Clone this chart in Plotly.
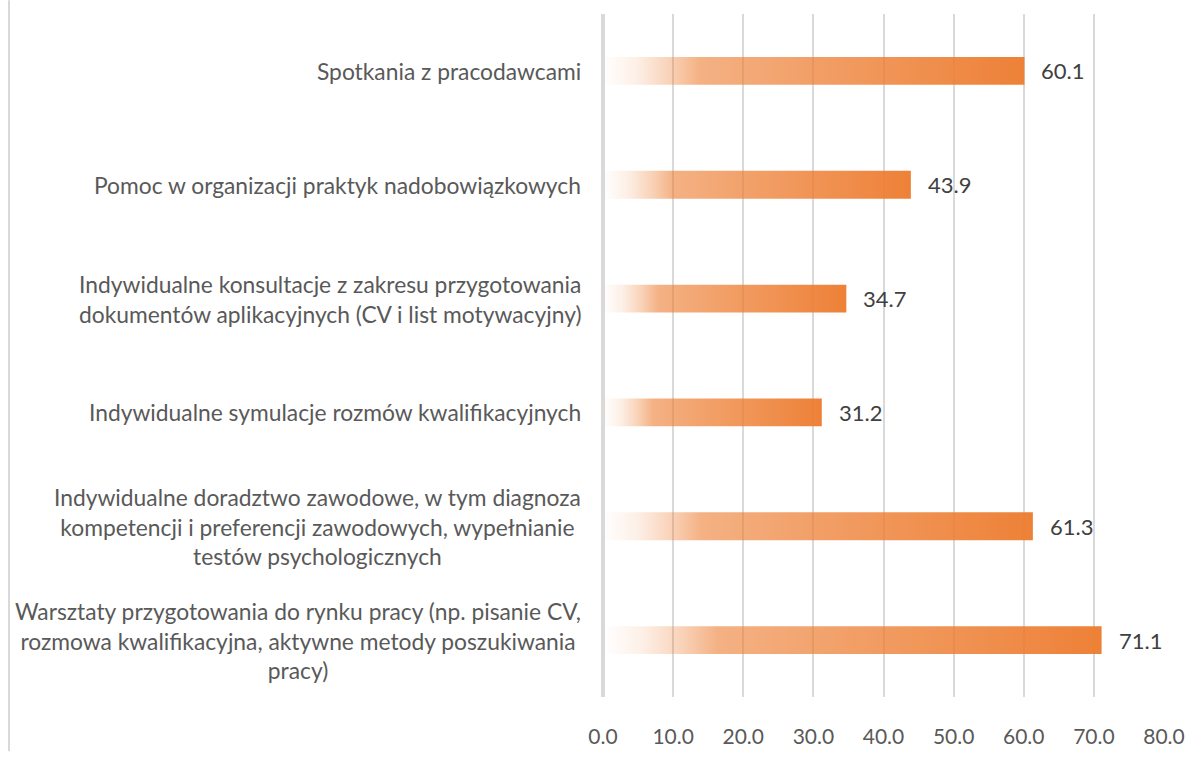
import plotly.graph_objects as go

categories = [
    "Warsztaty przygotowania do rynku pracy (np. pisanie CV,<br>rozmowa kwalifikacyjna, aktywne metody poszukiwania<br>pracy)",
    "Indywidualne doradztwo zawodowe, w tym diagnoza<br>kompetencji i preferencji zawodowych, wypełnianie<br>testów psychologicznych",
    "Indywidualne symulacje rozmów kwalifikacyjnych",
    "Indywidualne konsultacje z zakresu przygotowania<br>dokumentów aplikacyjnych (CV i list motywacyjny)",
    "Pomoc w organizacji praktyk nadobowiązkowych",
    "Spotkania z pracodawcami",
]
values = [71.1, 61.3, 31.2, 34.7, 43.9, 60.1]
x_ticks = [0, 10, 20, 30, 40, 50, 60, 70, 80]

FONT = "Lato"
TXT = "#595959"
GRID = "#d9d9d9"
HALF = 0.122

colorscale = [
    [0.0, "rgba(237,125,49,0.0)"],
    [0.08, "rgba(237,125,49,0.12)"],
    [0.16, "rgba(237,125,49,0.35)"],
    [0.23, "rgba(237,125,49,0.6)"],
    [0.5, "rgba(237,125,49,0.74)"],
    [1.0, "rgba(237,125,49,0.97)"],
]

fig = go.Figure()
for i, v in enumerate(values):
    fig.add_trace(go.Scatter(
        x=[0, v, v, 0, 0],
        y=[i - HALF, i - HALF, i + HALF, i + HALF, i - HALF],
        mode="lines",
        line=dict(width=0),
        fill="toself",
        fillgradient=dict(type="horizontal", colorscale=colorscale),
        hoverinfo="skip",
        showlegend=False,
    ))

annotations = []
for i, (c, v) in enumerate(zip(categories, values)):
    annotations.append(dict(
        xref="paper", yref="y", x=0, y=i, xshift=-20,
        xanchor="right", yanchor="middle", align="center",
        text=c, showarrow=False,
        font=dict(family=FONT, size=22.8, color=TXT),
    ))
    annotations.append(dict(
        xref="x", yref="y", x=v, y=i, xshift=15,
        xanchor="left", yanchor="middle",
        text=f"{v:.1f}", showarrow=False,
        font=dict(family=FONT, size=22, color="#404040"),
    ))

L, R, T, B = 603, 38, 14, 55
PH = 760 - T - B

fig.update_layout(
    width=1202, height=760,
    margin=dict(l=L, r=R, t=T, b=B),
    paper_bgcolor="white", plot_bgcolor="white",
    annotations=annotations,
    shapes=[dict(
        type="line", xref="paper", yref="paper",
        x0=(9 - L) / (1202 - L - R), x1=(9 - L) / (1202 - L - R),
        y0=-B / PH, y1=1 + T / PH,
        line=dict(color=GRID, width=2),
    )],
    xaxis=dict(
        range=[0, 80], tickvals=x_ticks, tickformat=".1f",
        showgrid=True, gridcolor=GRID, gridwidth=1.5,
        zeroline=True, zerolinecolor=GRID, zerolinewidth=3.5,
        showline=False, ticks="", ticklabelstandoff=25,
        tickfont=dict(family=FONT, size=21, color=TXT),
        fixedrange=True,
    ),
    yaxis=dict(
        range=[-0.5, 5.5], showticklabels=False, showgrid=False,
        zeroline=False, showline=False, fixedrange=True,
    ),
)

fig.write_html(
    "out.html",
    config={"displayModeBar": False},
    post_script="document.body.style.margin='0';document.body.style.overflow='hidden';",
)
